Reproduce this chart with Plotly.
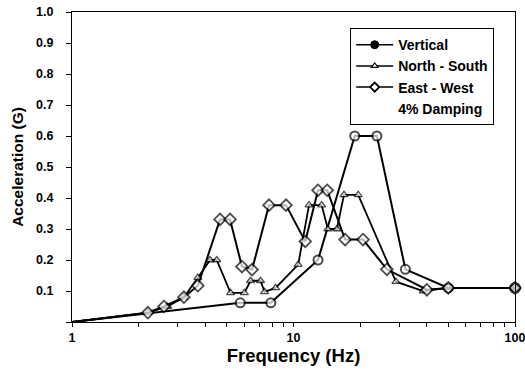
import plotly.graph_objects as go

# Vertical
vert_f = [1, 5.75, 7.9, 12.9, 18.9, 23.8, 32, 50, 100]
vert_a = [0.0, 0.062, 0.062, 0.20, 0.60, 0.60, 0.17, 0.11, 0.11]

# North - South
ns_f = [1, 2.2, 2.7, 3.2, 3.7, 4.2, 4.5, 5.2, 6.0, 6.4, 7.1, 7.4, 8.3, 10.5,
        11.75, 13.4, 14.3, 15.7, 16.9, 19.6, 29, 38.5, 50, 100]
ns_a = [0.0, 0.03, 0.05, 0.08, 0.143, 0.20, 0.20, 0.094, 0.094, 0.133, 0.133,
        0.097, 0.11, 0.185, 0.377, 0.377, 0.30, 0.30, 0.41, 0.41, 0.13, 0.10, 0.11, 0.11]

# East - West
ew_f = [1, 2.2, 2.6, 3.2, 3.7, 4.66, 5.17, 5.85, 6.5, 7.75, 9.25, 11.3, 12.9,
        14.2, 17.1, 20.6, 26.4, 40, 50, 100]
ew_a = [0.0, 0.03, 0.05, 0.08, 0.117, 0.331, 0.331, 0.179, 0.169, 0.377, 0.377,
        0.26, 0.425, 0.425, 0.266, 0.266, 0.17, 0.104, 0.11, 0.11]

series_names = ["Vertical", "North - South", "East - West"]
note_text = "4% Damping"

x_ticks = [1, 2, 3, 4, 5, 6, 7, 8, 9, 10, 20, 30, 40, 50, 60, 70, 80, 90, 100]
x_labels = ["1", "", "", "", "", "", "", "", "", "10", "", "", "", "", "", "", "", "", "100"]
y_ticks = [0, 0.1, 0.2, 0.3, 0.4, 0.5, 0.6, 0.7, 0.8, 0.9, 1.0]
y_labels = ["", "0.1", "0.2", "0.3", "0.4", "0.5", "0.6", "0.7", "0.8", "0.9", "1.0"]

FONT = "Arial, Liberation Sans, sans-serif"


def sizes_for(n, size, last=None):
    # first point (at the axes corner) carries no visible marker
    s = [0] + [size] * (n - 1)
    if last is not None:
        s[-1] = last
    return s


nv = len(vert_f)
vert_colors = ["white"] * (nv - 1) + ["black"]

fig = go.Figure()
# data traces
fig.add_trace(go.Scatter(
    x=vert_f, y=vert_a, name=series_names[0], mode="lines+markers", cliponaxis=False,
    showlegend=False,
    line=dict(color="black", width=2),
    marker=dict(symbol="circle", size=sizes_for(nv, 9, 10), color=vert_colors,
                line=dict(color="black", width=2)),
))
fig.add_trace(go.Scatter(
    x=ns_f, y=ns_a, name=series_names[1], mode="lines+markers", cliponaxis=False,
    showlegend=False,
    line=dict(color="black", width=1.8),
    marker=dict(symbol="triangle-up", size=sizes_for(len(ns_f), 7), color="white",
                line=dict(color="black", width=1.3)),
))
fig.add_trace(go.Scatter(
    x=ew_f, y=ew_a, name=series_names[2], mode="lines+markers", cliponaxis=False,
    showlegend=False,
    line=dict(color="black", width=2),
    marker=dict(symbol="diamond", size=sizes_for(len(ew_f), 9), color="white",
                line=dict(color="black", width=1.8)),
))
# legend entries
fig.add_trace(go.Scatter(
    x=[None], y=[None], name=series_names[0], mode="lines+markers",
    line=dict(color="black", width=1.5),
    marker=dict(symbol="circle", size=8, color="black", line=dict(color="black", width=1)),
))
fig.add_trace(go.Scatter(
    x=[None], y=[None], name=series_names[1], mode="lines+markers",
    line=dict(color="black", width=1.5),
    marker=dict(symbol="triangle-up", size=6, color="white", line=dict(color="black", width=1.2)),
))
fig.add_trace(go.Scatter(
    x=[None], y=[None], name=series_names[2], mode="lines+markers",
    line=dict(color="black", width=1.5),
    marker=dict(symbol="diamond", size=7, color="white", line=dict(color="black", width=1.8)),
))
fig.add_trace(go.Scatter(
    x=[None], y=[None], name=note_text, mode="lines",
    line=dict(color="rgba(0,0,0,0)", width=0), hoverinfo="skip",
))

fig.update_layout(
    width=525, height=376,
    margin=dict(l=72, r=10, t=12, b=54),
    paper_bgcolor="white", plot_bgcolor="white",
    font=dict(family=FONT, color="black", size=12, weight="bold"),
    showlegend=True,
    legend=dict(
        x=0.628, y=0.948, xanchor="left", yanchor="top",
        bordercolor="black", borderwidth=1, bgcolor="white",
        font=dict(family=FONT, size=14, color="black", weight="bold"),
        tracegroupgap=0, itemwidth=37,
    ),
    xaxis=dict(
        type="log", range=[0, 2], automargin=False,
        tickvals=x_ticks, ticktext=x_labels,
        ticks="outside", ticklen=4, tickwidth=1, tickcolor="black",
        ticklabelstandoff=0, ticklabeloverflow="allow",
        showline=True, linecolor="black", linewidth=1, mirror=True,
        showgrid=False, zeroline=False,
        tickfont=dict(family=FONT, size=12.5, weight="bold"),
        title=dict(text="Frequency (Hz)", font=dict(family=FONT, size=18.5, weight="bold"), standoff=4),
    ),
    yaxis=dict(
        range=[0, 1.0], automargin=False,
        tickvals=y_ticks, ticktext=y_labels,
        ticks="outside", ticklen=5, tickwidth=1, tickcolor="black",
        ticklabelstandoff=10, ticklabeloverflow="allow",
        showline=True, linecolor="black", linewidth=1, mirror=True,
        showgrid=False, zeroline=False,
        tickfont=dict(family=FONT, size=12.5, weight="bold"),
        title=dict(text="Acceleration (G)", font=dict(family=FONT, size=15.5, weight="bold"), standoff=8),
    ),
)

# remove the default page margin so the 525x376 figure fills the window exactly
fig.write_html("out.html", config={"displayModeBar": False},
               post_script="document.body.style.margin='0';")
